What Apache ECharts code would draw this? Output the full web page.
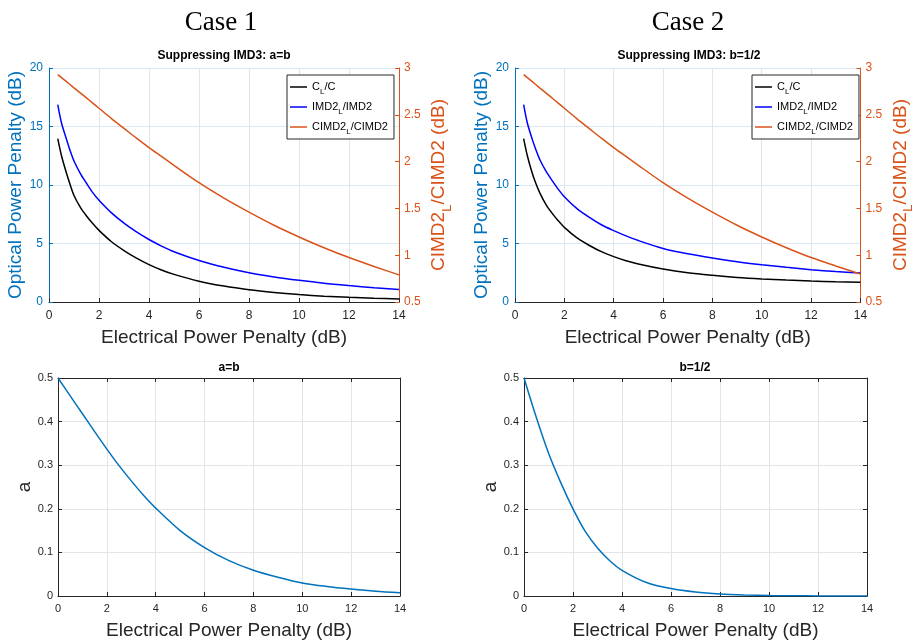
<!DOCTYPE html>
<html>
<head>
<meta charset="utf-8">
<script src="https://cdn.jsdelivr.net/npm/echarts@6/dist/echarts.min.js"></script>
<style>
  html, body { margin: 0; background: #fff; }
  #chart { width: 916px; height: 641px; }
</style>
</head>
<body>
<div id="chart"></div>
<script>
// top row: penalties vs electrical power penalty
var xTop = [0.35, 0.5, 0.7, 0.85, 1, 1.25, 1.5, 1.75, 2, 2.5, 3, 3.5, 4, 4.5, 5, 6, 7, 8, 9, 10, 11, 12, 13, 14];
var case1CL = [13.96, 12.5, 11.0, 10.0, 9.1, 8.1, 7.35, 6.7, 6.12, 5.15, 4.4, 3.75, 3.2, 2.74, 2.36, 1.78, 1.36, 1.05, 0.82, 0.64, 0.5, 0.4, 0.32, 0.26];
var case1IMD = [16.87, 15.3, 13.9, 12.9, 12.05, 11.0, 10.15, 9.35, 8.7, 7.62, 6.74, 5.99, 5.34, 4.78, 4.3, 3.55, 2.97, 2.5, 2.14, 1.85, 1.6, 1.4, 1.22, 1.06];
var case1CIMD = [2.93, 2.897, 2.854, 2.821, 2.788, 2.734, 2.68, 2.625, 2.57, 2.46, 2.355, 2.25, 2.15, 2.055, 1.96, 1.775, 1.61, 1.46, 1.32, 1.195, 1.08, 0.975, 0.88, 0.79];
var case2CL = [13.96, 12.5, 11.0, 10.1, 9.35, 8.35, 7.6, 6.95, 6.38, 5.5, 4.85, 4.3, 3.88, 3.53, 3.25, 2.82, 2.5, 2.28, 2.1, 1.97, 1.87, 1.79, 1.73, 1.68];
var case2IMD = [16.87, 15.3, 13.9, 13.0, 12.2, 11.2, 10.4, 9.65, 9.0, 8.0, 7.25, 6.6, 6.1, 5.65, 5.25, 4.58, 4.12, 3.76, 3.45, 3.19, 2.96, 2.76, 2.6, 2.48];
var case2CIMD = [2.93, 2.897, 2.854, 2.821, 2.788, 2.734, 2.68, 2.625, 2.57, 2.46, 2.355, 2.25, 2.15, 2.055, 1.96, 1.775, 1.61, 1.46, 1.32, 1.195, 1.08, 0.975, 0.885, 0.8];

// bottom row: a vs electrical power penalty
var xBot = [0, 0.5, 1, 1.5, 2, 2.5, 3, 3.5, 4, 5, 6, 7, 8, 9, 10, 11, 12, 13, 14];
var case1A = [0.5, 0.459, 0.418, 0.377, 0.337, 0.299, 0.264, 0.231, 0.2015, 0.15, 0.111, 0.081, 0.059, 0.043, 0.03, 0.022, 0.016, 0.011, 0.0076];
var case2A = [0.5, 0.41, 0.328, 0.26, 0.2, 0.148, 0.11, 0.081, 0.059, 0.031, 0.017, 0.009, 0.0045, 0.0022, 0.001, 0.0005, 0.0002, 0.0001, 0.00005];

var topTitles = ['Suppressing IMD3: a=b', 'Suppressing IMD3: b=1/2'];
var botTitles = ['a=b', 'b=1/2'];
var names = ['CL/C', 'IMD2L/IMD2', 'CIMD2L/CIMD2'];
var legendRich = {
  'CL/C': '{n|C}{s|L}{n|/C}',
  'IMD2L/IMD2': '{n|IMD2}{s|L}{n|/IMD2}',
  'CIMD2L/CIMD2': '{n|CIMD2}{s|L}{n|/CIMD2}'
};

var FONT = '"Liberation Sans", Arial, sans-serif';
var BLUE = '#0072BD';
var ORANGE = '#D95319';
var DARK = '#262626';

function pairs(xs, ys) {
  return xs.map(function (x, i) { return [x, ys[i]]; });
}

var chart = echarts.init(document.getElementById('chart'));

function xAxisFor(grid, fontSize, gap, margin) {
  return {
    gridIndex: grid, type: 'value', min: 0, max: 14, interval: 2, position: 'bottom',
    name: 'Electrical Power Penalty (dB)', nameLocation: 'middle', nameGap: gap,
    nameTextStyle: { color: DARK, fontSize: 19, fontFamily: FONT },
    axisLine: { show: true, onZero: false, lineStyle: { color: DARK, width: 1 } },
    axisTick: { show: true, inside: true, length: 4, lineStyle: { color: DARK } },
    axisLabel: { color: DARK, fontSize: fontSize, fontFamily: FONT, margin: margin },
    splitLine: { show: true, lineStyle: { color: '#e4e4e4' } }
  };
}

function boxX(grid) {
  return {
    gridIndex: grid, type: 'value', min: 0, max: 14, interval: 2, position: 'top',
    axisLine: { show: true, onZero: false, lineStyle: { color: DARK } },
    axisTick: { show: true, inside: true, length: 4, lineStyle: { color: DARK } },
    axisLabel: { show: false }, splitLine: { show: false }
  };
}

function leftTopY(grid) {
  return {
    gridIndex: grid, type: 'value', min: 0, max: 20, interval: 5, position: 'left',
    name: 'Optical Power Penalty (dB)', nameLocation: 'middle', nameGap: 22, nameRotate: 90,
    nameTextStyle: { color: BLUE, fontSize: 19, fontFamily: FONT },
    axisLine: { show: true, onZero: false, lineStyle: { color: BLUE } },
    axisTick: { show: true, inside: true, length: 4, lineStyle: { color: BLUE } },
    axisLabel: { color: BLUE, fontSize: 12, fontFamily: FONT, margin: 6 },
    splitLine: { show: true, lineStyle: { color: '#dbe7f2' } }
  };
}

function rightTopY(grid, gap) {
  return {
    gridIndex: grid, type: 'value', min: 0.5, max: 3, interval: 0.5, position: 'right',
    name: '{m|CIMD2}{s|L}{m|/CIMD2 (dB)}', nameLocation: 'middle', nameGap: gap, nameRotate: 90,
    nameTextStyle: {
      color: ORANGE, fontSize: 19, fontFamily: FONT,
      rich: {
        m: { color: ORANGE, fontSize: 19, fontFamily: FONT, lineHeight: 21 },
        s: { color: ORANGE, fontSize: 13, fontFamily: FONT, lineHeight: 13, padding: [16, 0, 0, 0] }
      }
    },
    axisLine: { show: true, onZero: false, lineStyle: { color: ORANGE } },
    axisTick: { show: true, inside: true, length: 4, lineStyle: { color: ORANGE } },
    axisLabel: { color: ORANGE, fontSize: 12, fontFamily: FONT, margin: 5 },
    splitLine: { show: false }
  };
}

function botY(grid) {
  return {
    gridIndex: grid, type: 'value', min: 0, max: 0.5, interval: 0.1, position: 'left',
    name: 'a', nameLocation: 'middle', nameGap: 23, nameRotate: 90,
    nameTextStyle: { color: DARK, fontSize: 19, fontFamily: FONT },
    axisLine: { show: true, onZero: false, lineStyle: { color: DARK } },
    axisTick: { show: true, inside: true, length: 4, lineStyle: { color: DARK } },
    axisLabel: { color: DARK, fontSize: 11, fontFamily: FONT, margin: 5 },
    splitLine: { show: true, lineStyle: { color: '#e4e4e4' } }
  };
}

function boxY(grid) {
  return {
    gridIndex: grid, type: 'value', min: 0, max: 0.5, interval: 0.1, position: 'right',
    axisLine: { show: true, onZero: false, lineStyle: { color: DARK } },
    axisTick: { show: true, inside: true, length: 4, lineStyle: { color: DARK } },
    axisLabel: { show: false }, splitLine: { show: false }
  };
}

function line(name, x, y, xi, yi, color) {
  return {
    name: name, type: 'line', xAxisIndex: xi, yAxisIndex: yi,
    data: pairs(x, y), smooth: 0.3, symbol: 'none',
    lineStyle: { color: color, width: 1.5 }, itemStyle: { color: color },
    animation: false
  };
}

function legendAt(left) {
  return {
    data: names, left: left, top: 75, orient: 'vertical',
    backgroundColor: '#fff', borderColor: DARK, borderWidth: 1, borderRadius: 0,
    padding: [3, 6, 3, 3], itemGap: 2, itemWidth: 17, itemHeight: 1.5, icon: 'rect',
    selectedMode: false,
    formatter: function (n) { return legendRich[n]; },
    textStyle: {
      color: '#000', fontSize: 11, fontFamily: FONT,
      rich: {
        n: { color: '#000', fontSize: 11, fontFamily: FONT, lineHeight: 13 },
        s: { color: '#000', fontSize: 8, fontFamily: FONT, lineHeight: 8, padding: [10, 0, 0, 0] }
      }
    }
  };
}

function label(text, x, y, font) {
  return { type: 'text', x: x, y: y, style: { text: text, font: font, fill: '#000', textAlign: 'center' } };
}

var option = {
  backgroundColor: '#fff',
  animation: false,
  graphic: [
    label('Case 1', 221, 9, '27px "Liberation Serif", "Times New Roman", serif'),
    label('Case 2', 688, 9, '27px "Liberation Serif", "Times New Roman", serif'),
    label(topTitles[0], 224, 50, 'bold 12px ' + FONT),
    label(topTitles[1], 689, 50, 'bold 12px ' + FONT),
    label(botTitles[0], 229, 362, 'bold 12px ' + FONT),
    label(botTitles[1], 695, 362, 'bold 12px ' + FONT)
  ],
  grid: [
    { left: 49, top: 68, width: 350, height: 234 },
    { left: 515, top: 68, width: 349, height: 234 },
    { left: 58, top: 378, width: 342, height: 220 },
    { left: 524, top: 378, width: 343, height: 220 }
  ],
  legend: [legendAt(287), legendAt(752)],
  xAxis: [xAxisFor(0, 12, 26, 8), xAxisFor(1, 12, 26, 8), xAxisFor(2, 11, 25, 7), xAxisFor(3, 11, 25, 7), boxX(2), boxX(3)],
  yAxis: [leftTopY(0), rightTopY(0, 26), leftTopY(1), rightTopY(1, 20), botY(2), botY(3), boxY(2), boxY(3)],
  series: [
    line(names[0], xTop, case1CL, 0, 0, '#000000'),
    line(names[1], xTop, case1IMD, 0, 0, '#0000FF'),
    line(names[2], xTop, case1CIMD, 0, 1, ORANGE),
    line(names[0], xTop, case2CL, 1, 2, '#000000'),
    line(names[1], xTop, case2IMD, 1, 2, '#0000FF'),
    line(names[2], xTop, case2CIMD, 1, 3, ORANGE),
    line('a1', xBot, case1A, 2, 4, BLUE),
    line('a2', xBot, case2A, 3, 5, BLUE)
  ]
};

chart.setOption(option);
window.onresize = chart.resize;
</script>
</body>
</html>
